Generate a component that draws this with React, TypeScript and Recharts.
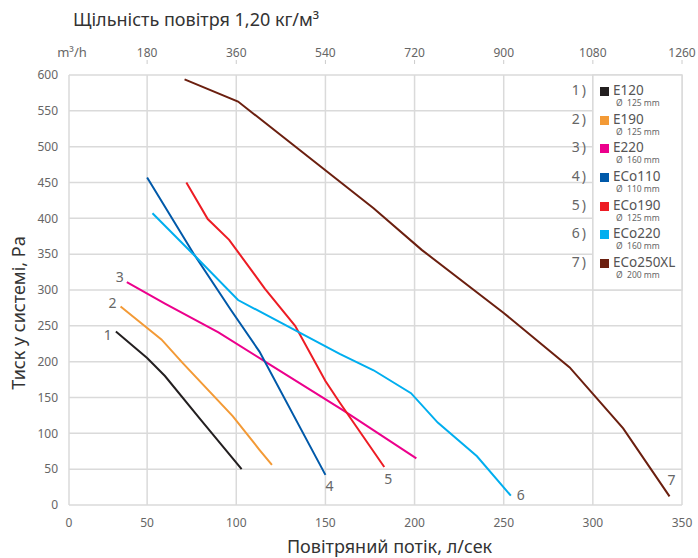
import React from 'react';
import { LineChart, Line, XAxis, YAxis, CartesianGrid, Legend, ReferenceArea, Label } from 'recharts';

// flow in l/s, pressure in Pa
const E120 = [
    { q: 30, p: 242 }, { q: 50, p: 205 }, { q: 60, p: 180 }, { q: 80, p: 119 }, { q: 103, p: 50 },
];
const E190 = [
    { q: 33, p: 277 }, { q: 58, p: 231 }, { q: 70, p: 198 }, { q: 98, p: 124 }, { q: 113, p: 77 }, { q: 120, p: 56 },
];
const E220 = [
    { q: 37, p: 311 }, { q: 60, p: 281 }, { q: 90, p: 241 }, { q: 120, p: 194 }, { q: 160, p: 132 }, { q: 201, p: 65 },
];
const ECO110 = [
    { q: 50, p: 457 }, { q: 76, p: 351 }, { q: 97, p: 272 }, { q: 113, p: 214 }, { q: 150, p: 42 },
];
const ECO190 = [
    { q: 72, p: 450 }, { q: 84, p: 399 }, { q: 96, p: 370 }, { q: 116, p: 302 }, { q: 133, p: 250 },
    { q: 150, p: 173 }, { q: 158, p: 143 }, { q: 183, p: 53 },
];
const ECO220 = [
    { q: 53, p: 407 }, { q: 77, p: 347 }, { q: 101, p: 286 }, { q: 158, p: 211 }, { q: 177, p: 188 },
    { q: 198, p: 156 }, { q: 213, p: 115 }, { q: 235, p: 68 }, { q: 254, p: 13 },
];
const ECO250XL = [
    { q: 71, p: 594 }, { q: 101, p: 563 }, { q: 177, p: 414 }, { q: 204, p: 356 }, { q: 250, p: 268 },
    { q: 287, p: 192 }, { q: 317, p: 107 }, { q: 343, p: 12 },
];

const SERIES = [E120, E190, E220, ECO110, ECO190, ECO220, ECO250XL];
const NAMES = ['E120', 'E190', 'E220', 'ECo110', 'ECo190', 'ECo220', 'ECo250XL'];
const DIAMETERS = ['Ø  125 mm', 'Ø  125 mm', 'Ø  160 mm', 'Ø  110 mm', 'Ø  125 mm', 'Ø  160 mm', 'Ø  200 mm'];
const COLORS = ['#231f20', '#f39a36', '#ec008c', '#0059a9', '#ed1c24', '#00aeef', '#6b1f0f'];

const FLOW_TICKS = [0, 50, 100, 150, 200, 250, 300, 350];
const M3H_LABELS = ['m³/h', '180', '360', '540', '720', '900', '1080', '1260'];
const PRESSURE_TICKS = [0, 50, 100, 150, 200, 250, 300, 350, 400, 450, 500, 550, 600];

// curve number label: which end of the line, and offset from it
const NUM_AT_END = [false, false, false, true, true, true, true];
const NUM_OFFSET = [[-8, 3], [-8, -4], [-7, -6], [4, 11], [4, 11], [10, -1], [2, -17]];

// the first 0-50 interval is drawn narrower than the others in the original sheet
const flowToAxis = (v: number) => (v >= 50 ? v : 50 - (50 - v) * (78 / 89));
const AXIS_TICKS = FLOW_TICKS.map(flowToAxis);
const tickIndex = (v: number) => AXIS_TICKS.findIndex((t) => Math.abs(t - v) < 0.01);

const MARGIN = { top: 75, right: 16, bottom: 23, left: 19 };
const PLOT_TOP = MARGIN.top;

const FONT = '"Noto Sans", sans-serif';
const GRID = '#dadada';
const TEXT = '#666';

const renderNum = (s: number) => (props: any) => {
    const last = SERIES[s].length - 1;
    if (props.index !== (NUM_AT_END[s] ? last : 0)) return null;
    const [dx, dy] = NUM_OFFSET[s];
    return (
        <text key={`num-${s}`} x={props.x + dx} y={props.y + dy} textAnchor="middle" dominantBaseline="central"
            fontSize={14} fill={TEXT} fontFamily={FONT}>
            {s + 1}
        </text>
    );
};

// l/s label below the plot, m3/h label (with a small mark) above it
const FlowTick = (props: any) => {
    const i = tickIndex(props.payload.value);
    return (
        <g>
            <text x={props.x} y={props.y + 9} textAnchor="middle" fontSize={12} fill={TEXT} fontFamily={FONT}>
                {FLOW_TICKS[i]}
            </text>
            <text x={props.x + (i === 0 ? 3 : 0)} y={PLOT_TOP - 18} textAnchor="middle" fontSize={i === 0 ? 13 : 12} fill={TEXT} fontFamily={FONT}>
                {M3H_LABELS[i]}
            </text>
            {i > 0 && <line x1={props.x} x2={props.x} y1={PLOT_TOP - 15} y2={PLOT_TOP - 11} stroke="#ccc" />}
        </g>
    );
};

const renderLegend = () => (
    <div style={{ width: 125, fontFamily: FONT }}>
        {NAMES.map((name, i) => (
            <div key={name} style={{ position: 'relative', height: 28.67 }}>
                <div style={{ position: 'absolute', left: 0, width: 28, top: 6, textAlign: 'right', fontSize: 14, lineHeight: '14px', color: TEXT, letterSpacing: 2 }}>
                    {i + 1})
                </div>
                <div style={{ position: 'absolute', left: 40, top: 10, width: 9, height: 9, background: COLORS[i] }} />
                <div style={{ position: 'absolute', left: 53, top: 7, fontSize: 13.5, lineHeight: '13px', color: '#555' }}>{name}</div>
                <div style={{ position: 'absolute', left: 56, top: 21, fontSize: 8.5, lineHeight: '9px', color: TEXT, whiteSpace: 'pre' }}>
                    {DIAMETERS[i]}
                </div>
            </div>
        ))}
    </div>
);

export default function App() {
    return (
        <div style={{ position: 'absolute', left: 0, top: 0, width: 698, height: 558, background: '#fff', fontFamily: FONT }}>
            <div style={{ position: 'absolute', left: 73, top: 10, fontSize: 18, lineHeight: '18px', color: '#333', whiteSpace: 'nowrap' }}>
                Щільність повітря 1,20 кг/м³
            </div>
            <LineChart width={698} height={558} margin={MARGIN}>
                <CartesianGrid stroke={GRID} strokeWidth={1.5} />
                <XAxis
                    type="number"
                    dataKey={(d: any) => flowToAxis(d.q)}
                    domain={[AXIS_TICKS[0], 350]}
                    ticks={AXIS_TICKS}
                    interval={0}
                    axisLine={false}
                    tickLine={false}
                    tickSize={0}
                    tickMargin={13}
                    height={30}
                    tick={FlowTick}
                >
                    <Label
                        content={({ viewBox }: any) => (
                            <text x={viewBox.x + viewBox.width / 2 + 14} y={viewBox.y + viewBox.height + 18} textAnchor="middle"
                                fontSize={18} fill="#333" fontFamily={FONT}>
                                Повітряний потік, л/сек
                            </text>
                        )}
                    />
                </XAxis>
                <YAxis
                    type="number"
                    domain={[0, 600]}
                    ticks={PRESSURE_TICKS}
                    interval={0}
                    axisLine={false}
                    tickLine={false}
                    tickSize={0}
                    tickMargin={11}
                    width={50}
                    tick={{ fontSize: 12, fill: TEXT, fontFamily: FONT }}
                >
                    <Label
                        content={({ viewBox }: any) => {
                            const cx = viewBox.x - 1;
                            const cy = viewBox.y + viewBox.height / 2 + 23;
                            return (
                                <text x={cx} y={cy} transform={`rotate(-90, ${cx}, ${cy})`} textAnchor="middle"
                                    dominantBaseline="central" fontSize={18} fill="#333" fontFamily={FONT}>
                                    Тиск у системі, Pa
                                </text>
                            );
                        }}
                    />
                </YAxis>
                <ReferenceArea x1={300} x2={350} y1={300} y2={600} fill="#fff" fillOpacity={1} stroke={GRID} strokeWidth={1.5} />
                {SERIES.map((data, i) => (
                    <Line
                        key={NAMES[i]}
                        data={data}
                        dataKey="p"
                        name={NAMES[i]}
                        type="linear"
                        stroke={COLORS[i]}
                        strokeWidth={2}
                        dot={false}
                        activeDot={false}
                        label={renderNum(i)}
                        isAnimationActive={false}
                    />
                ))}
                <Legend
                    layout="vertical"
                    align="center"
                    verticalAlign="middle"
                    content={renderLegend}
                    wrapperStyle={{ left: 560, top: 77, width: 125 }}
                />
            </LineChart>
        </div>
    );
}
